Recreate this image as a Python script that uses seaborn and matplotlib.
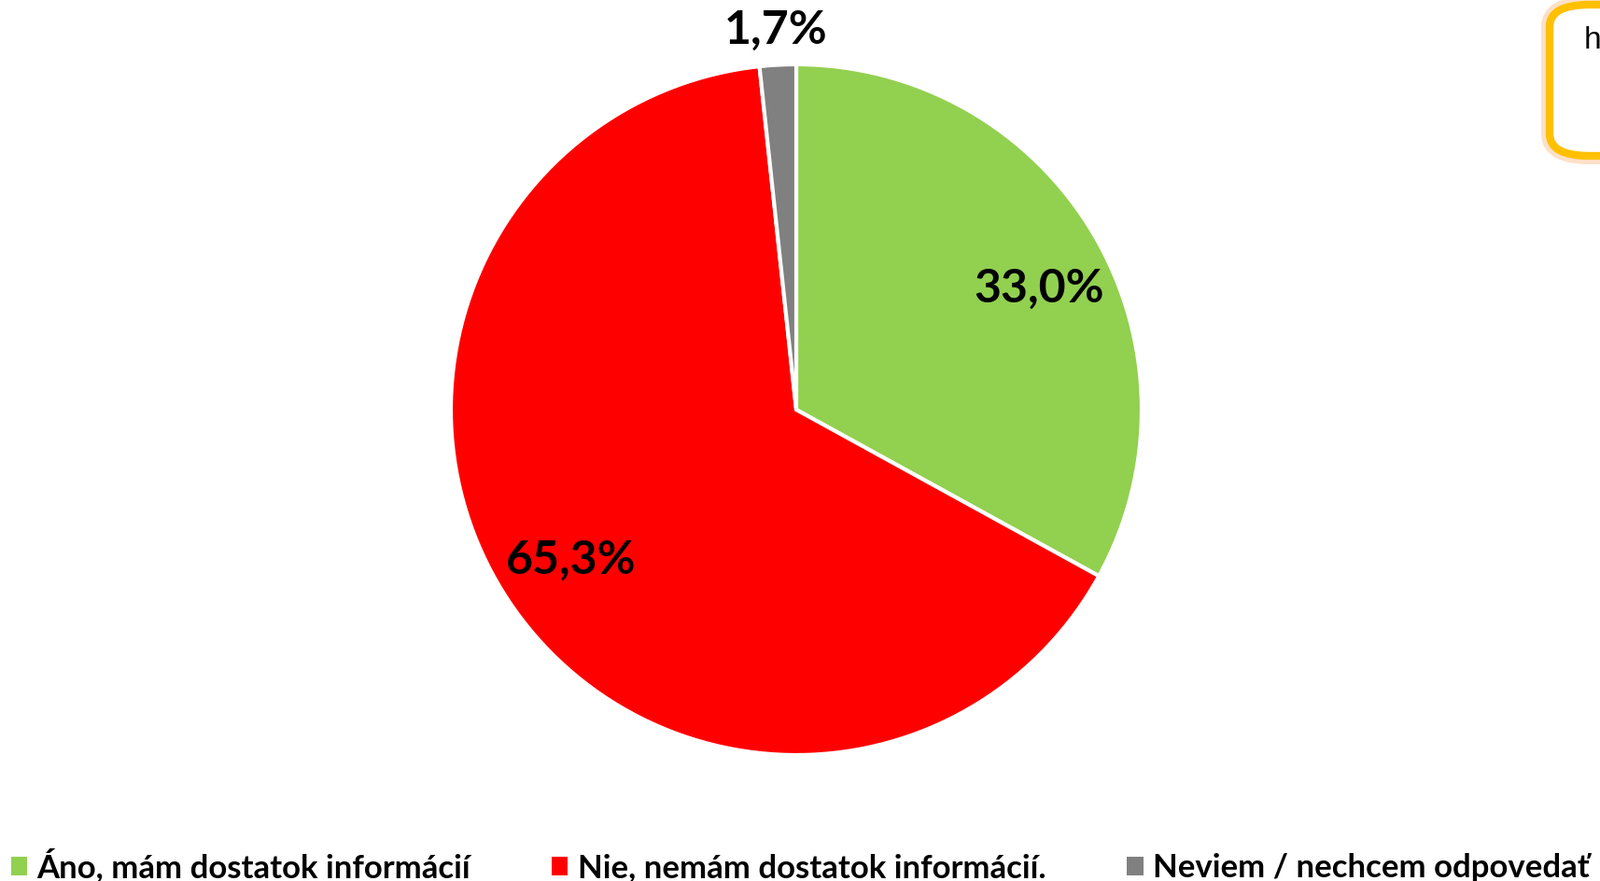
import matplotlib
matplotlib.use("Agg")
import matplotlib.pyplot as plt
import seaborn as sns
import numpy as np
from matplotlib.patches import FancyBboxPatch, Patch

categories = ["Áno, mám dostatok informácií", "Nie, nemám dostatok informácií.", "Neviem / nechcem odpovedať"]
values = [33.0, 65.3, 1.7]
labels = ["33,0%", "65,3%", "1,7%"]
colors = ["#92D050", "#FF0000", "#808080"]

sns.set_theme(style="white")
plt.rcParams['font.family'] = ['Lato', 'DejaVu Sans']
plt.rcParams['text.color'] = 'black'

W, H = 1714, 944
fig = plt.figure(figsize=(W / 100, H / 100), dpi=100)
fig.patch.set_facecolor("white")

cx, cy, r = 853, 439, 370
ax = fig.add_axes([(cx - r) / W, (H - cy - r) / H, 2 * r / W, 2 * r / H])
wedges, _ = ax.pie(values, colors=colors, startangle=90, counterclock=False,
                   wedgeprops=dict(edgecolor="white", linewidth=3), radius=1)
ax.set_xlim(-1, 1)
ax.set_ylim(-1, 1)
ax.set_aspect("equal")
ax.axis("off")

cum = np.cumsum([0] + values[:-1])
dists = [0.785, 0.785, 1.1]
angle_offsets = [-4.0, 0.0, 0.0]
for v, c, lab, d, off in zip(values, cum, labels, dists, angle_offsets):
    ang = np.deg2rad(90 - (c + v / 2) / 100 * 360 + off)
    ax.text(d * np.cos(ang), d * np.sin(ang), lab, ha="center", va="center",
            fontsize=36, fontweight="bold", color="black", clip_on=False)

handles = [Patch(facecolor=col, edgecolor="none") for col in colors]
leg = fig.legend(handles, categories, ncol=3, loc="center left",
                 bbox_to_anchor=(-2 / W, 1 - 928 / H), frameon=False,
                 prop=dict(size=25, weight="bold"), handlelength=0.5, handleheight=0.5,
                 handletextpad=0.3, columnspacing=2.5, borderaxespad=0)
for t in leg.get_texts():
    t.set_color("black")

# top-right box (partially cut off)
bx, by, bw, bh = 1660 / W, 1 - 167 / H, 200 / W, 162 / H
glow = FancyBboxPatch((bx, by), bw, bh,
                      boxstyle="round,pad=0,rounding_size=0.025",
                      transform=fig.transFigure, facecolor="white",
                      edgecolor="#FDE0C8", linewidth=13, zorder=1)
box = FancyBboxPatch((bx, by), bw, bh,
                     boxstyle="round,pad=0,rounding_size=0.025",
                     transform=fig.transFigure, facecolor="white",
                     edgecolor="#FFC000", linewidth=6, zorder=2)
fig.patches.extend([glow, box])
fig.text(1697 / W, 1 - 44 / H, "h", fontsize=24, family=['Liberation Sans', 'DejaVu Sans'],
         ha="left", va="center", zorder=3)

fig.savefig("out.png", dpi=100)
